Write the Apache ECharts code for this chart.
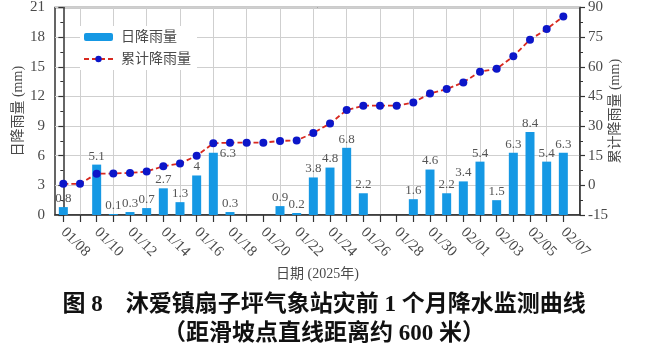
<!DOCTYPE html>
<html>
<head>
<meta charset="utf-8">
<script src="https://cdn.jsdelivr.net/npm/echarts@6/dist/echarts.min.js"></script>
<style>
  html, body { margin: 0; padding: 0; background: #fff; }
  #main { width: 653px; height: 355px; }
</style>
</head>
<body>
<div id="main"></div>
<script>
var dates = ['01/08', '01/09', '01/10', '01/11', '01/12', '01/13', '01/14', '01/15',
    '01/16', '01/17', '01/18', '01/19', '01/20', '01/21', '01/22', '01/23', '01/24',
    '01/25', '01/26', '01/27', '01/28', '01/29', '01/30', '01/31', '02/01', '02/02',
    '02/03', '02/04', '02/05', '02/06', '02/07'];
// daily rainfall (mm)
var daily = [0.8, 0, 5.1, 0.1, 0.3, 0.7, 2.7, 1.3, 4, 6.3, 0.3, 0, 0, 0.9, 0.2, 3.8,
    4.8, 6.8, 2.2, 0, 0, 1.6, 4.6, 2.2, 3.4, 5.4, 1.5, 6.3, 8.4, 5.4, 6.3];
// cumulative rainfall (mm)
var cumulative = [0.8, 0.8, 5.9, 6.0, 6.3, 7.0, 9.7, 11.0, 15.0, 21.3, 21.6, 21.6, 21.6,
    22.5, 22.7, 26.5, 31.3, 38.1, 40.3, 40.3, 40.3, 41.9, 46.5, 48.7, 52.1, 57.5, 59.0,
    65.3, 73.7, 79.1, 85.4];
var leftTicks = [0, 21, 3];
var rightTicks = [-15, 90, 15];

var serif = "'Liberation Serif', 'Noto Sans CJK SC', serif";
var axisColor = '#333';
var textColor = '#4a4a4a';

var tickIdx = dates.map(function (d, i) { return i; });
var labelIdx = tickIdx.filter(function (i) { return i % 2 === 0; });
// half-step helper axis for the vertical grid
var halfSteps = [];
for (var h = 0; h < 64; h++) halfSteps.push('');

var chartDom = document.getElementById('main');
var myChart = echarts.init(chartDom, null, { renderer: 'canvas' });
var option = {
    animation: false,
    title: [
        {
            text: '图 8　沐爱镇扇子坪气象站灾前 1 个月降水监测曲线',
            left: 319, top: 289, textAlign: 'center',
            textStyle: { fontSize: 23, fontWeight: 'bold', color: '#111', fontFamily: serif }
        },
        {
            text: '（距滑坡点直线距离约 600 米）',
            left: 319, top: 318, textAlign: 'center',
            textStyle: { fontSize: 23, fontWeight: 'bold', color: '#111', fontFamily: serif }
        }
    ],
    legend: {
        orient: 'vertical',
        left: 80, top: 26,
        padding: [4, 6, 4, 3],
        backgroundColor: '#fff',
        itemWidth: 29, itemHeight: 8, itemGap: 8,
        textStyle: { fontSize: 14, color: textColor, fontFamily: serif, padding: [0, 0, 0, 3] },
        data: ['日降雨量', '累计降雨量']
    },
    grid: {
        left: 55, right: 73, top: 7, bottom: 140,
        show: true, borderColor: axisColor, borderWidth: 1.5
    },
    xAxis: [
        {
            type: 'value',
            min: -0.5, max: 31,
            name: '日期 (2025年)',
            nameLocation: 'middle', nameGap: 52, nameMoveOverlap: false,
            nameTextStyle: { fontSize: 14, color: textColor, fontFamily: serif },
            axisLine: { lineStyle: { color: axisColor, width: 1.5 } },
            axisTick: { customValues: tickIdx, length: 7, lineStyle: { color: axisColor, width: 1.2 } },
            axisLabel: {
                customValues: labelIdx,
                rotate: -45, margin: 15,
                fontSize: 15, color: textColor, fontFamily: serif,
                formatter: function (v) { return dates[v] || ''; }
            },
            splitLine: { show: false }
        },
        {
            type: 'category',
            position: 'bottom',
            boundaryGap: false,
            data: halfSteps,
            axisLine: { show: false },
            axisTick: { show: false },
            axisLabel: { show: false },
            splitLine: {
                show: true,
                interval: function (index) { return index % 4 === 3; },
                lineStyle: { color: '#cfcfcf', width: 1 }
            }
        }
    ],
    yAxis: [
        {
            type: 'value',
            min: leftTicks[0], max: leftTicks[1], interval: leftTicks[2],
            name: '日降雨量 (mm)',
            nameLocation: 'middle', nameGap: 30, nameRotate: 90, nameMoveOverlap: false,
            nameTextStyle: { fontSize: 14, color: textColor, fontFamily: serif },
            axisLine: { show: true, lineStyle: { color: axisColor, width: 1.5 } },
            axisTick: { show: true, length: 5, lineStyle: { color: axisColor, width: 1.2 } },
            minorTick: { show: true, splitNumber: 2, length: 3, lineStyle: { color: axisColor } },
            axisLabel: { fontSize: 15, color: textColor, fontFamily: serif, margin: 10 },
            splitLine: { show: true, lineStyle: { color: '#cfcfcf', width: 1 } }
        },
        {
            type: 'value',
            position: 'right',
            min: rightTicks[0], max: rightTicks[1], interval: rightTicks[2],
            name: '累计降雨量 (mm)',
            nameLocation: 'middle', nameGap: 28, nameRotate: 90, nameMoveOverlap: false,
            nameTextStyle: { fontSize: 14, color: textColor, fontFamily: serif },
            axisLine: { show: true, lineStyle: { color: axisColor, width: 1.5 } },
            axisTick: { show: true, length: 5, lineStyle: { color: axisColor, width: 1.2 } },
            minorTick: { show: true, splitNumber: 2, length: 3, lineStyle: { color: axisColor } },
            axisLabel: { fontSize: 15, color: textColor, fontFamily: serif, margin: 8 },
            splitLine: { show: false }
        }
    ],
    series: [
        {
            name: '日降雨量',
            type: 'bar',
            xAxisIndex: 0, yAxisIndex: 0,
            barWidth: 9,
            itemStyle: { color: '#1598e4' },
            label: {
                show: true, position: 'top', distance: 2,
                fontSize: 13, color: '#555', fontFamily: serif,
                formatter: function (p) { return p.value[1] > 0 ? String(p.value[1]) : ''; }
            },
            data: daily.map(function (v, i) {
                // the 01/17 label sits beside its bar top, clear of the line
                if (i === 9) return { value: [i, v], label: { position: [11, -6] } };
                return [i, v];
            })
        },
        {
            name: '累计降雨量',
            type: 'line',
            xAxisIndex: 0, yAxisIndex: 1,
            symbol: 'circle', symbolSize: 8,
            itemStyle: { color: '#0c16c9' },
            lineStyle: { color: '#d8291f', width: 1.8, type: [5, 3] },
            z: 5,
            data: cumulative.map(function (v, i) { return [i, v]; })
        }
    ]
};
option && myChart.setOption(option);
</script>
</body>
</html>
